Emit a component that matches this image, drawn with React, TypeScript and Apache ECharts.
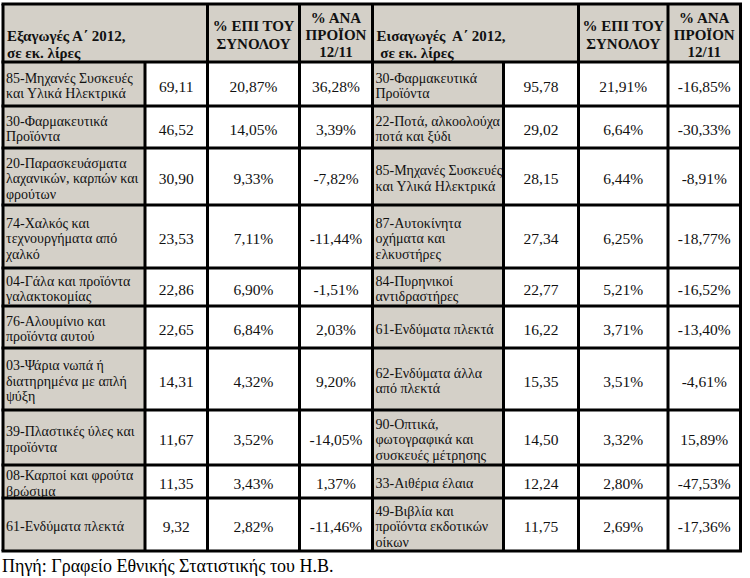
import React, { useEffect, useRef } from "react";
import * as echarts from "echarts";

// ---------- DATA ----------
const exportHeader = "Εξαγωγές Α΄ 2012,\nσε εκ. λίρες";
const importHeader = "Εισαγωγές  Α΄ 2012,\n σε εκ. λίρες";
const shareHeader = "% ΕΠΙ ΤΟΥ\nΣΥΝΟΛΟΥ";
const changeHeader = "% ΑΝΑ\nΠΡΟΪΟΝ\n12/11";

const exportLabels = [
  "85-Μηχανές Συσκευές\nκαι Υλικά Ηλεκτρικά",
  "30-Φαρμακευτικά\nΠροϊόντα",
  "20-Παρασκευάσματα\nλαχανικών, καρπών και\nφρούτων",
  "74-Χαλκός και\nτεχνουργήματα από\nχαλκό",
  "04-Γάλα και προϊόντα\nγαλακτοκομίας",
  "76-Αλουμίνιο και\nπροϊόντα αυτού",
  "03-Ψάρια νωπά ή\nδιατηρημένα με απλή\nψύξη",
  "39-Πλαστικές ύλες και\nπροϊόντα",
  "08-Καρποί και φρούτα\nβρώσιμα",
  "61-Ενδύματα πλεκτά",
];
const exportValues = [69.11, 46.52, 30.9, 23.53, 22.86, 22.65, 14.31, 11.67, 11.35, 9.32];
const exportShares = [20.87, 14.05, 9.33, 7.11, 6.9, 6.84, 4.32, 3.52, 3.43, 2.82];
const exportChanges = [36.28, 3.39, -7.82, -11.44, -1.51, 2.03, 9.2, -14.05, 1.37, -11.46];

const importLabels = [
  "30-Φαρμακευτικά\nΠροϊόντα",
  "22-Ποτά, αλκοολούχα\nποτά και ξύδι",
  "85-Μηχανές Συσκευές\nκαι Υλικά Ηλεκτρικά",
  "87-Αυτοκίνητα\nοχήματα και\nελκυστήρες",
  "84-Πυρηνικοί\nαντιδραστήρες",
  "61-Ενδύματα πλεκτά",
  "62-Ενδύματα άλλα\nαπό πλεκτά",
  "90-Οπτικά,\nφωτογραφικά και\nσυσκευές μέτρησης",
  "33-Αιθέρια έλαια",
  "49-Βιβλία και\nπροϊόντα εκδοτικών\nοίκων",
];
const importValues = [95.78, 29.02, 28.15, 27.34, 22.77, 16.22, 15.35, 14.5, 12.24, 11.75];
const importShares = [21.91, 6.64, 6.44, 6.25, 5.21, 3.71, 3.51, 3.32, 2.8, 2.69];
const importChanges = [-16.85, -30.33, -8.91, -18.77, -16.52, -13.4, -4.61, 15.89, -47.53, -17.36];

const sourceNote = "Πηγή: Γραφείο Εθνικής Στατιστικής του Η.Β.";

// ---------- LAYOUT ----------
const COLS = [3, 145, 207.5, 299.5, 372.5, 503.5, 578.5, 668, 740.5];
const ROWS = [4, 62, 106, 148, 205, 268, 306, 348, 410, 465, 498, 551];
const GRAY = "#d4d0c8";
const FAMILY = "Liberation Serif";
const LABEL_SIZE = 14;
const NUM_SIZE = 15.5;
const HEAD_SIZE = 15;
const LINE_W = 3;

const fmt = (v: number, pct: boolean) => v.toFixed(2).replace(".", ",") + (pct ? "%" : "");

function txt(text: string, x: number, y: number, size: number, bold: boolean, align: string, lineHeight?: number) {
  const style: any = {
    text,
    x,
    y,
    fontFamily: FAMILY,
    fontSize: size,
    fontWeight: bold ? "bold" : "normal",
    fill: "#111111",
    textAlign: align,
    textVerticalAlign: "middle",
  };
  if (lineHeight) style.lineHeight = lineHeight;
  return { type: "text", style };
}

function buildGraphic() {
  const els: any[] = [];
  const nRows = exportLabels.length;
  els.push({ type: "rect", shape: { x: COLS[0], y: ROWS[0], width: COLS[8] - COLS[0], height: ROWS[1] - ROWS[0] }, style: { fill: GRAY } });
  for (let i = 0; i < nRows; i++) {
    const y0 = ROWS[i + 1], y1 = ROWS[i + 2];
    for (let c = 0; c < 8; c++) {
      const isLabel = c === 0 || c === 4;
      els.push({
        type: "rect",
        shape: { x: COLS[c], y: y0, width: COLS[c + 1] - COLS[c], height: y1 - y0 },
        style: { fill: isLabel ? GRAY : "#ffffff" },
      });
    }
  }
  // header texts
  els.push(txt(exportHeader, COLS[0] + 4, 44, HEAD_SIZE, true, "left", 17));
  els.push(txt(importHeader, COLS[4] + 4, 44, HEAD_SIZE, true, "left", 17));
  [2, 6].forEach((c) => els.push(txt(shareHeader, (COLS[c] + COLS[c + 1]) / 2, 35, HEAD_SIZE, true, "center", 18)));
  [3, 7].forEach((c) => els.push(txt(changeHeader, (COLS[c] + COLS[c + 1]) / 2, 35, HEAD_SIZE, true, "center", 17)));
  // body texts
  const halves = [
    { base: 0, labels: exportLabels, values: exportValues, shares: exportShares, changes: exportChanges },
    { base: 4, labels: importLabels, values: importValues, shares: importShares, changes: importChanges },
  ];
  halves.forEach((h) => {
    for (let i = 0; i < nRows; i++) {
      const yc = (ROWS[i + 1] + ROWS[i + 2]) / 2 + 2;
      els.push(txt(h.labels[i], COLS[h.base] + 3, yc, LABEL_SIZE, false, "left", 15.5));
      const cells = [fmt(h.values[i], false), fmt(h.shares[i], true), fmt(h.changes[i], true)];
      cells.forEach((t, k) => {
        const c = h.base + 1 + k;
        els.push(txt(t, (COLS[c] + COLS[c + 1]) / 2, yc, NUM_SIZE, false, "center"));
      });
    }
  });
  // grid lines
  const lineStyle = { stroke: "#000000", lineWidth: LINE_W };
  ROWS.forEach((y) => {
    els.push({ type: "line", shape: { x1: COLS[0] - 1.5, y1: y, x2: COLS[8] + 1.5, y2: y }, style: lineStyle });
  });
  COLS.forEach((x, c) => {
    const yStart = c === 1 || c === 5 ? ROWS[1] : ROWS[0];
    els.push({ type: "line", shape: { x1: x, y1: yStart, x2: x, y2: ROWS[ROWS.length - 1] }, style: lineStyle });
  });
  // source
  els.push({
    type: "text",
    style: { text: sourceNote, x: 2, y: 566, fontFamily: FAMILY, fontSize: 18, fill: "#000000", textAlign: "left", textVerticalAlign: "middle" },
  });
  return els;
}

export default function App() {
  const ref = useRef<HTMLDivElement>(null);
  useEffect(() => {
    if (!ref.current) return;
    const chart = echarts.init(ref.current, undefined, { renderer: "svg" });
    chart.setOption({
      animation: false,
      backgroundColor: "#ffffff",
      graphic: { elements: buildGraphic() },
    });
    return () => chart.dispose();
  }, []);
  return (
    <div
      ref={ref}
      style={{ position: "fixed", left: 0, top: 0, width: 750, height: 578, background: "#fff" }}
    />
  );
}
